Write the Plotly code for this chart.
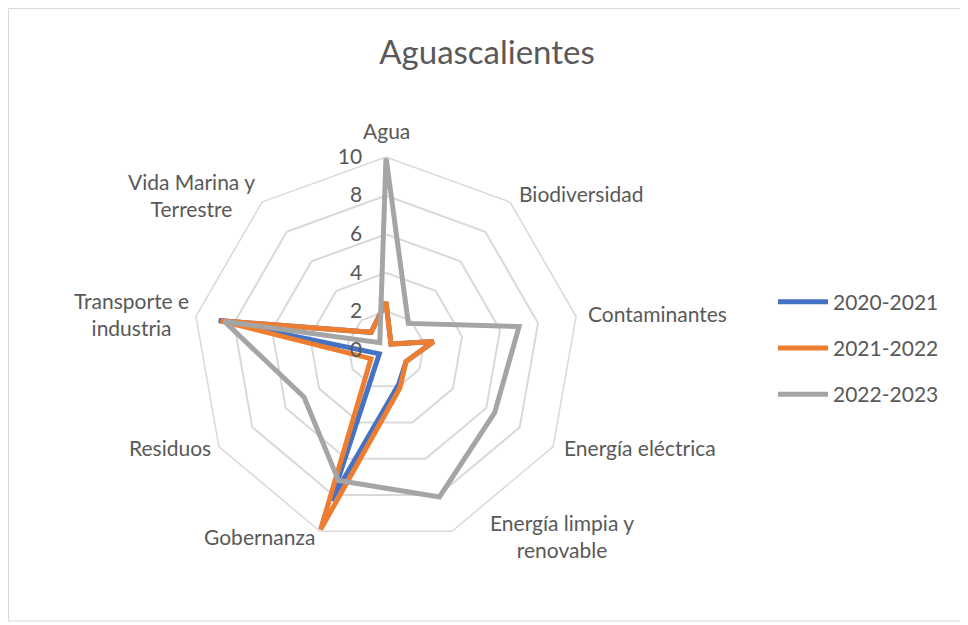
import plotly.graph_objects as go

categories = ["Agua", "Biodiversidad", "Contaminantes", "Energía eléctrica",
              "Energía limpia y renovable", "Gobernanza", "Residuos",
              "Transporte e industria", "Vida Marina y Terrestre"]

serie_2020_2021 = [2.5, 0.4, 2.5, 1.2, 1.9, 8.3, 0.4, 8.8, 1.2]
serie_2021_2022 = [2.5, 0.4, 2.5, 1.2, 2.1, 9.9, 0.9, 8.7, 1.2]
serie_2022_2023 = [10, 1.8, 7.0, 6.5, 8.1, 7.2, 4.9, 8.5, 0.5]

series = [("2020-2021", serie_2020_2021, "#4472C4"),
          ("2021-2022", serie_2021_2022, "#ED7D31"),
          ("2022-2023", serie_2022_2023, "#A5A5A5")]

fig = go.Figure()
for name, values, color in series:
    fig.add_trace(go.Scatterpolar(
        r=values + values[:1],
        theta=categories + categories[:1],
        mode="lines",
        name=name,
        legendgroup=name,
        line=dict(color=color, width=5),
    ))

# page body adds an 8px offset, positions below are in figure pixels
W, H = 968, 625
cx, cy, R = 378, 342, 193

# category labels placed like Excel does (centre of each text block)
label_text = {
    "Agua": "Agua",
    "Biodiversidad": "Biodiversidad",
    "Contaminantes": "Contaminantes",
    "Energía eléctrica": "Energía eléctrica",
    "Energía limpia y renovable": "Energía limpia y<br>renovable",
    "Gobernanza": "Gobernanza",
    "Residuos": "Residuos",
    "Transporte e industria": "Transporte e<br>industria",
    "Vida Marina y Terrestre": "Vida Marina y<br>Terrestre",
}
label_pos = {
    "Agua": (378, 122),
    "Biodiversidad": (573, 185),
    "Contaminantes": (649, 305),
    "Energía eléctrica": (632, 439),
    "Energía limpia y renovable": (554, 528),
    "Gobernanza": (251, 528),
    "Residuos": (162, 439),
    "Transporte e industria": (123, 306),
    "Vida Marina y Terrestre": (183, 187),
}
annotations = []
for cat in categories:
    px_, py_ = label_pos[cat]
    annotations.append(dict(text=label_text[cat], x=px_ / W, y=1 - py_ / H,
                            xref="paper", yref="paper", showarrow=False,
                            xanchor="center", yanchor="middle", align="center",
                            font=dict(size=21, color="#595959")))

fig.update_layout(
    width=W, height=H,
    margin=dict(l=0, r=0, t=0, b=0),
    paper_bgcolor="white",
    font=dict(family="Lato, Calibri, sans-serif", size=21, color="#595959"),
    title=dict(text="Aguascalientes", x=479 / W, xanchor="center",
               y=1 - 44 / H, yanchor="middle",
               font=dict(size=33, color="#595959")),
    polar=dict(
        domain=dict(x=[(cx - R) / W, (cx + R) / W],
                    y=[(H - cy - R) / H, (H - cy + R) / H]),
        gridshape="linear",
        bgcolor="white",
        radialaxis=dict(range=[0, 10], dtick=2, angle=90, tickangle=90,
                        side="counterclockwise", showline=False,
                        ticks="outside", ticklen=16,
                        tickcolor="rgba(0,0,0,0)",
                        gridcolor="#D9D9D9", gridwidth=1.5,
                        tickfont=dict(size=21, color="#595959")),
        angularaxis=dict(direction="clockwise", rotation=90, showgrid=False,
                         showline=True, linecolor="#D9D9D9", linewidth=1.5,
                         ticks="", showticklabels=False),
    ),
    legend=dict(x=765 / W, y=1 - 340 / H, xanchor="left", yanchor="middle",
                font=dict(size=21, color="#595959"), tracegroupgap=16,
                itemwidth=50),
    annotations=annotations,
    shapes=[dict(type="rect", xref="paper", yref="paper",
                 x0=0.5 / W, x1=954 / W, y0=1 - 613 / H, y1=1 - 0.5 / H,
                 line=dict(color="#D9D9D9", width=1))],
)

fig.write_html("out.html")
